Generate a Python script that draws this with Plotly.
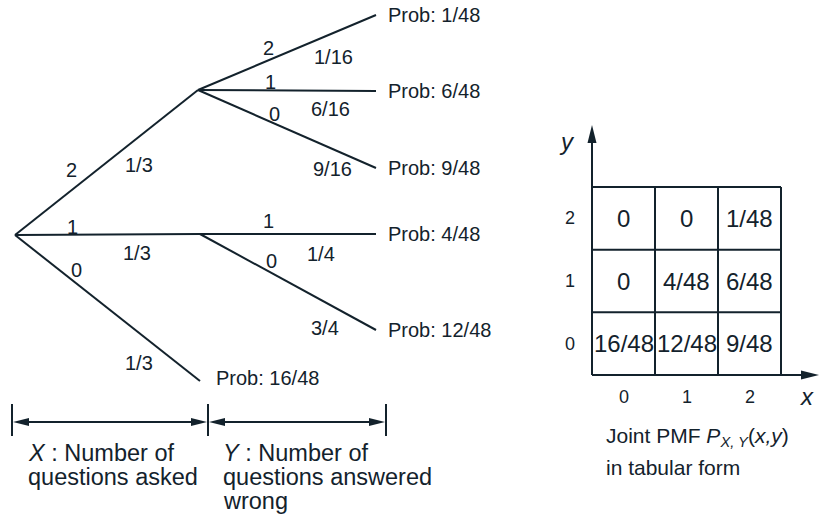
import plotly.graph_objects as go

# ---------------- data ----------------
x_values = [2, 1, 0]                      # X: number of questions asked
x_probs = ["1/3", "1/3", "1/3"]
y_values = {2: [2, 1, 0], 1: [1, 0], 0: []}  # Y: number answered wrong
y_probs = {2: ["1/16", "6/16", "9/16"], 1: ["1/4", "3/4"], 0: []}
leaf_probs = ["1/48", "6/48", "9/48", "4/48", "12/48", "16/48"]
table_x = [0, 1, 2]
table_y = [0, 1, 2]
pmf_rows = [            # row index = y, column index = x
    ["16/48", "12/48", "9/48"],
    ["0", "4/48", "6/48"],
    ["0", "0", "1/48"],
]
x_caption = ["<i>X</i> : Number of", "questions asked"]
y_caption = ["<i>Y</i> : Number of", "questions answered", "wrong"]
table_caption = ["Joint PMF <i>P</i><sub><i>X, Y</i></sub>(<i>x,y</i>)", "in tabular form"]

# ---------------- layout / style ----------------
W, H = 820, 520
OFF = 0            # page body margin is removed by post_script
FW, FH = W - OFF, H - OFF
INK = "#13222c"
FONT = "Liberation Sans, Arial, Helvetica, sans-serif"
LW = 2

ROOT = (15, 235)
LEVEL1_X = {2: 198, 1: 200, 0: 200}
LEVEL1_Y = {2: 90, 1: 234, 0: 381}
LEAF_X = 376
LEAF_Y = {(2, 2): 15, (2, 1): 91, (2, 0): 168, (1, 1): 234, (1, 0): 330}
# (t_value, dy_value, t_prob, dy_prob) along each branch
ROOT_LABELS = {2: (0.31, -20, 0.678, 28), 1: (0.31, -8, 0.66, 19), 0: (0.33, -13, 0.67, 30)}
SUB_LABELS = {(2, 2): (0.395, -12, 0.763, 24), (2, 1): (0.41, -8, 0.744, 18),
              (2, 0): (0.43, -10, 0.754, 20), (1, 1): (0.39, -13, 0.685, 20),
              (1, 0): (0.407, -12, 0.709, 26)}
TREE_FS = 20

# table geometry (screen pixels)
T_LEFT, T_BOTTOM = 592, 375
CELL_W, CELL_H = 63.0, 62.67
PAD = 12
X2_DOM_PX = (T_LEFT - PAD, W)
Y2_DOM_PX = (120, T_BOTTOM + PAD)  # top, bottom


def on_branch(p, q, t, dy):
    return p[0] + t * (q[0] - p[0]), p[1] + t * (q[1] - p[1]) + dy


def text(x, y, s, size, xanchor="center", xref="x", yref="y", italic=False, **kw):
    return dict(x=x, y=y, text=s, xref=xref, yref=yref, showarrow=False,
                xanchor=xanchor, yanchor="middle",
                font=dict(size=size, color=INK, family=FONT,
                          style="italic" if italic else "normal"), **kw)


def head_path(tip, direction, length, half):
    tx, ty = tip
    dx, dy = direction
    bx, by = tx - dx * length, ty - dy * length
    nx, ny = -dy, dx
    return (f"M{tx},{ty} L{bx + nx * half},{by + ny * half} "
            f"L{bx - nx * half},{by - ny * half} Z")


annotations = []
shapes = []
lx, ly = [], []

# ---- tree ----
leaf_i = 0
for xi, xv in enumerate(x_values):
    node = (LEVEL1_X[xv], LEVEL1_Y[xv])
    lx += [ROOT[0], node[0], None]
    ly += [ROOT[1], node[1], None]
    tv, dv, tp, dp = ROOT_LABELS[xv]
    px, py = on_branch(ROOT, node, tv, dv)
    annotations.append(text(px, py, str(xv), TREE_FS))
    px, py = on_branch(ROOT, node, tp, dp)
    annotations.append(text(px, py, x_probs[xi], TREE_FS))
    if not y_values[xv]:
        annotations.append(text(node[0] + 14, node[1] - 3, "Prob: " + leaf_probs[leaf_i],
                                TREE_FS, xanchor="left"))
        leaf_i += 1
        continue
    for yi, yv in enumerate(y_values[xv]):
        leaf = (LEAF_X, LEAF_Y[(xv, yv)])
        lx += [node[0], leaf[0], None]
        ly += [node[1], leaf[1], None]
        tv, dv, tp, dp = SUB_LABELS[(xv, yv)]
        px, py = on_branch(node, leaf, tv, dv)
        annotations.append(text(px, py, str(yv), TREE_FS))
        px, py = on_branch(node, leaf, tp, dp)
        annotations.append(text(px, py, y_probs[xv][yi], TREE_FS))
        annotations.append(text(leaf[0] + 10, leaf[1], "Prob: " + leaf_probs[leaf_i],
                                TREE_FS, xanchor="left"))
        leaf_i += 1

# ---- dimension arrows under the tree ----
DIM_Y, DIM_TOP, DIM_BOT = 422, 404, 436
dim_x = [12, 208, 386]
for xv in dim_x:
    lx += [xv, xv, None]
    ly += [DIM_TOP, DIM_BOT, None]
for a, b in zip(dim_x[:-1], dim_x[1:]):
    lx += [a + 10, b - 10, None]
    ly += [DIM_Y, DIM_Y, None]
    shapes.append(dict(type="path", xref="x", yref="y", path=head_path((a + 1, DIM_Y), (-1, 0), 16, 4),
                       fillcolor=INK, line=dict(width=0)))
    shapes.append(dict(type="path", xref="x", yref="y", path=head_path((b - 1, DIM_Y), (1, 0), 16, 4),
                       fillcolor=INK, line=dict(width=0)))

CAP_FS = 23.5
for i, s in enumerate(x_caption):
    annotations.append(text(26, 453 + 24 * i, s, CAP_FS, xanchor="left"))
for i, s in enumerate(y_caption):
    annotations.append(text(221, 453 + 24 * i, s, CAP_FS, xanchor="left"))

# ---- table (second axes in table units) ----
x2_range = [-0.5 - PAD / CELL_W, -0.5 + (W - T_LEFT) / CELL_W]
y2_range = [-0.5 - PAD / CELL_H, -0.5 + (T_BOTTOM - Y2_DOM_PX[0]) / CELL_H]
x2_dom = [(X2_DOM_PX[0] - OFF) / FW, (X2_DOM_PX[1] - OFF) / FW]
y2_dom = [1 - (Y2_DOM_PX[1] - OFF) / FH, 1 - (Y2_DOM_PX[0] - OFF) / FH]

n_x, n_y = len(table_x), len(table_y)
lo_x, hi_x = table_x[0] - 0.5, table_x[-1] + 0.5
lo_y, hi_y = table_y[0] - 0.5, table_y[-1] + 0.5
gx, gy = [], []
for k in range(n_x + 1):
    gx += [lo_x + k, lo_x + k, None]
    gy += [lo_y, hi_y, None]
for k in range(n_y + 1):
    gx += [lo_x, hi_x, None]
    gy += [lo_y + k, lo_y + k, None]
# axis arrows
x_tip = x2_range[1] - 1.0 / CELL_W
y_tip = lo_y + (T_BOTTOM - 125) / CELL_H
gx += [lo_x, x_tip - 10 / CELL_W, None, lo_x, lo_x, None]
gy += [lo_y, lo_y, None, lo_y, y_tip - 10 / CELL_H, None]

HL, HW = 18, 4.5
shapes.append(dict(type="path", xref="x2", yref="y2", fillcolor=INK, line=dict(width=0),
                   path=(f"M{x_tip},{lo_y} L{x_tip - HL / CELL_W},{lo_y + HW / CELL_H} "
                         f"L{x_tip - HL / CELL_W},{lo_y - HW / CELL_H} Z")))
shapes.append(dict(type="path", xref="x2", yref="y2", fillcolor=INK, line=dict(width=0),
                   path=(f"M{lo_x},{y_tip} L{lo_x - HW / CELL_W},{y_tip - HL / CELL_H} "
                         f"L{lo_x + HW / CELL_W},{y_tip - HL / CELL_H} Z")))

CELL_FS = 24
for yv, row in zip(table_y, pmf_rows):
    for xv, s in zip(table_x, row):
        annotations.append(text(xv, yv, s, CELL_FS, xref="x2", yref="y2"))
TICK_FS = 18
for xv in table_x:
    annotations.append(text(xv, lo_y, str(xv), TICK_FS, xref="x2", yref="y2", yshift=-22))
for yv in table_y:
    annotations.append(text(lo_x, yv, str(yv), TICK_FS, xref="x2", yref="y2", xshift=-22))
annotations.append(text(x2_range[1] - 4 / CELL_W, lo_y, "x", CELL_FS, xref="x2", yref="y2",
                        xanchor="right", yshift=-21, italic=True))
annotations.append(text(lo_x, y_tip, "y", CELL_FS, xref="x2", yref="y2",
                        xshift=-25, yshift=-16, italic=True))

TAB_CAP_FS = 21
for i, s in enumerate(table_caption):
    annotations.append(text(604, 437 + 30 * i, s, TAB_CAP_FS, xanchor="left"))

fig = go.Figure()
fig.add_trace(go.Scatter(x=lx, y=ly, mode="lines", line=dict(color=INK, width=LW),
                         hoverinfo="skip", showlegend=False))
fig.add_trace(go.Scatter(x=gx, y=gy, xaxis="x2", yaxis="y2", mode="lines",
                         line=dict(color=INK, width=LW), hoverinfo="skip", showlegend=False))

fig.update_layout(
    width=FW, height=FH, margin=dict(l=0, r=0, t=0, b=0),
    paper_bgcolor="white", plot_bgcolor="rgba(0,0,0,0)",
    showlegend=False, hovermode=False,
    xaxis=dict(range=[OFF, W], domain=[0, 1], visible=False, fixedrange=True),
    yaxis=dict(range=[H, OFF], domain=[0, 1], visible=False, fixedrange=True),
    xaxis2=dict(range=x2_range, domain=x2_dom, anchor="y2", visible=False, fixedrange=True),
    yaxis2=dict(range=y2_range, domain=y2_dom, anchor="x2", visible=False, fixedrange=True),
    annotations=annotations,
    shapes=shapes,
)
fig.write_html("out.html", config={"displayModeBar": False},
               post_script="document.body.style.margin='0';document.body.style.overflow='hidden';")
